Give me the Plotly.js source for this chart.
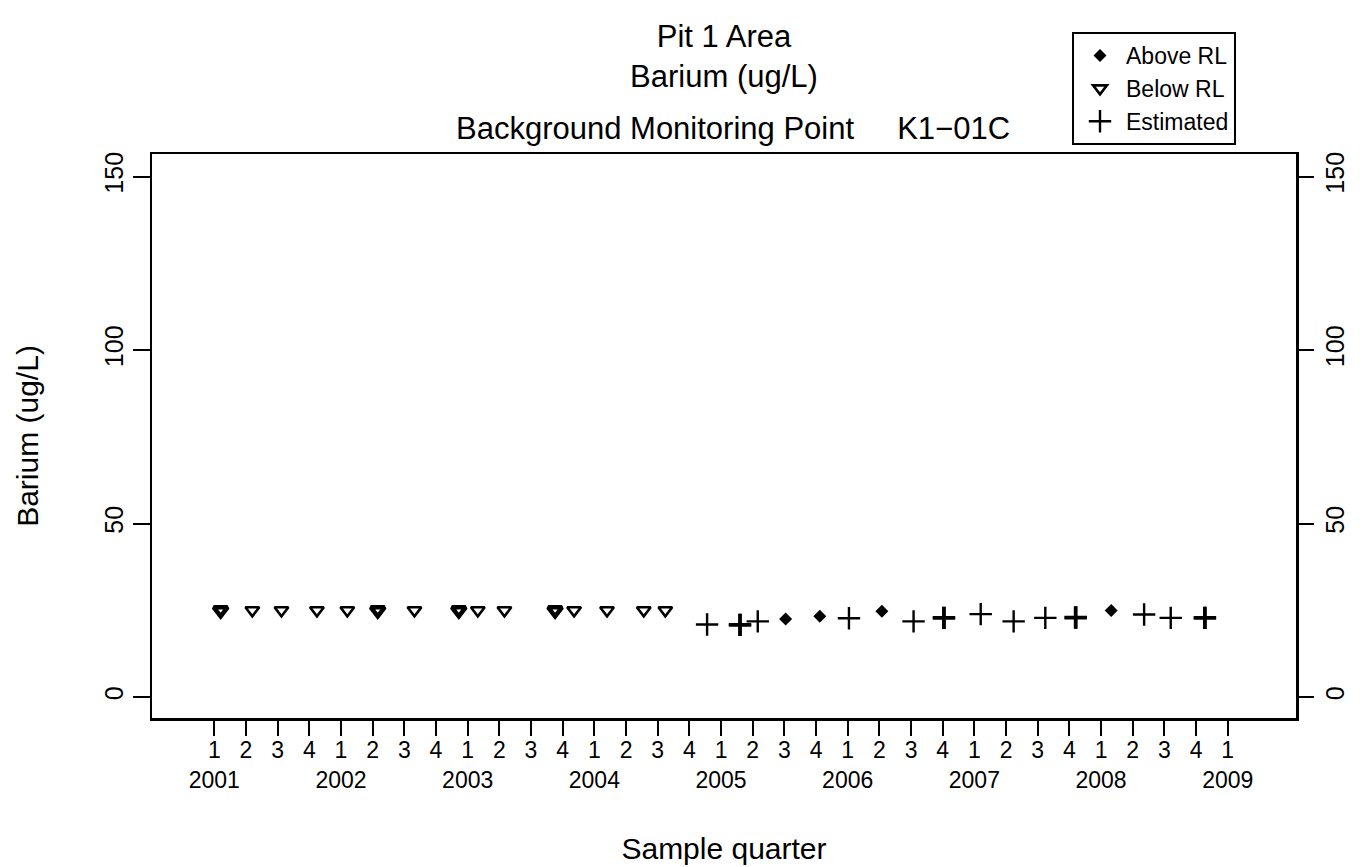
<!DOCTYPE html>
<html>
<head>
<meta charset="utf-8">
<script src="https://cdn.plot.ly/plotly-3.0.1.min.js"></script>
<style>
html,body{margin:0;padding:0;background:#fff;}
#chart{width:1364px;height:867px;}
</style>
</head>
<body>
<div id="chart"></div>
<script>
// ---- data (sample time as decimal year, value in ug/L) ----
const years = [2001, 2002, 2003, 2004, 2005, 2006, 2007, 2008, 2009];
const quarterLabels = ['1', '2', '3', '4'];

const aboveX = [2005.51, 2005.78, 2006.27, 2008.08];
const aboveY = [22.5, 23.3, 24.7, 24.9];

const belowX = [2001.05, 2001.30, 2001.53, 2001.81, 2002.05, 2002.29, 2002.58, 2002.93,
                2003.08, 2003.29, 2003.69, 2003.84, 2004.10, 2004.39, 2004.56];
const belowY = [25, 25, 25, 25, 25, 25, 25, 25, 25, 25, 25, 25, 25, 25, 25];

const estX = [2004.89, 2005.15, 2005.29, 2006.01, 2006.52, 2006.76, 2007.05, 2007.31,
              2007.56, 2007.80, 2008.34, 2008.55, 2008.82];
const estY = [20.9, 20.8, 21.8, 22.7, 21.8, 22.8, 23.9, 21.8, 22.8, 22.9, 23.8, 22.8, 22.8];

// points drawn heavier (overplotted samples) - indices into the arrays above
const belowHeavy = [0, 5, 7, 10];
const estHeavy = [1, 5, 9, 12];

// ---- ticks ----
const tickVals = [], tickText = [];
years.forEach(function (yr) {
  quarterLabels.forEach(function (ql, q) {
    if (yr === years[years.length - 1] && q > 0) return;
    tickVals.push(yr + q / 4);
    tickText.push(q === 0 ? ql + '<br>' + yr : ql);
  });
});
const yTicks = [0, 50, 100, 150];

const FONT = 'Liberation Sans, Arial, Helvetica, sans-serif';
const pick = (arr, idx) => idx.map(i => arr[i]);

const traces = [
  {
    name: 'Above RL', x: aboveX, y: aboveY, type: 'scatter', mode: 'markers',
    marker: {symbol: 'diamond', size: 10, color: '#000', line: {width: 0}}
  },
  {
    name: 'Below RL', x: belowX, y: belowY, type: 'scatter', mode: 'markers',
    marker: {symbol: 'triangle-down-open', size: 12, color: '#000', line: {width: 2.6, color: '#000'}}
  },
  {
    name: 'Estimated', x: estX, y: estY, type: 'scatter', mode: 'markers',
    marker: {symbol: 'cross-thin-open', size: 16, color: '#000', line: {width: 2.4, color: '#000'}}
  },
  {
    name: 'Below RL', x: pick(belowX, belowHeavy), y: pick(belowY, belowHeavy), type: 'scatter', mode: 'markers',
    showlegend: false,
    marker: {symbol: 'triangle-down-open', size: 12, color: '#000', line: {width: 4.5, color: '#000'}}
  },
  {
    name: 'Estimated', x: pick(estX, estHeavy), y: pick(estY, estHeavy), type: 'scatter', mode: 'markers',
    showlegend: false,
    marker: {symbol: 'cross-thin-open', size: 16, color: '#000', line: {width: 3.8, color: '#000'}}
  },
  {x: [], y: [], yaxis: 'y2', type: 'scatter', mode: 'markers', showlegend: false, hoverinfo: 'skip'}
];

const layout = {
  width: 1364, height: 867,
  margin: {l: 152, r: 68, t: 154, b: 149, pad: 0},
  paper_bgcolor: '#fff', plot_bgcolor: '#fff',
  font: {family: FONT, color: '#000', size: 22},
  title: {
    text: 'Pit 1 Area<br>Barium (ug/L)',
    font: {family: FONT, size: 31, color: '#000'},
    x: 0.5, xref: 'paper', xanchor: 'center',
    y: 1 - 47 / 867, yref: 'container', yanchor: 'top'
  },
  annotations: [{
    text: 'Background Monitoring Point\u00a0\u00a0\u00a0\u00a0\u00a0K1\u221201C',
    xref: 'paper', yref: 'paper', x: 0.508, y: (718 - 128) / 564,
    xanchor: 'center', yanchor: 'middle', showarrow: false,
    font: {family: FONT, size: 31, color: '#000'}
  }],
  xaxis: {
    range: [2000.508, 2009.539],
    tickmode: 'array', tickvals: tickVals, ticktext: tickText, tickangle: 0,
    ticks: 'outside', ticklen: 15, tickwidth: 2, tickcolor: '#000',
    ticklabelstandoff: -5,
    showline: true, linewidth: 2.5, linecolor: '#000', mirror: true,
    showgrid: false, zeroline: false,
    tickfont: {family: FONT, size: 23, color: '#000'},
    title: {text: 'Sample quarter', font: {family: FONT, size: 30, color: '#000'}, standoff: 46},
    automargin: false
  },
  yaxis: {
    range: [-6.05, 156.5],
    tickmode: 'array', tickvals: yTicks,
    ticks: 'outside', ticklen: 17, tickwidth: 2, tickcolor: '#000', tickangle: -90,
    showline: true, linewidth: 2.5, linecolor: '#000', mirror: true,
    showgrid: false, zeroline: false,
    tickfont: {family: FONT, size: 25, color: '#000'},
    title: {text: 'Barium (ug/L)', font: {family: FONT, size: 30, color: '#000'}, standoff: 52},
    automargin: false
  },
  yaxis2: {
    overlaying: 'y', side: 'right', anchor: 'x',
    range: [-6.05, 156.5],
    tickmode: 'array', tickvals: yTicks,
    ticks: 'outside', ticklen: 17, tickwidth: 2, tickcolor: '#000', tickangle: -90,
    showline: false, showgrid: false, zeroline: false,
    tickfont: {family: FONT, size: 25, color: '#000'},
    automargin: false
  },
  legend: {
    x: (1072 - 152) / 1144, y: (718 - 32) / 564, xanchor: 'left', yanchor: 'top',
    bordercolor: '#000', borderwidth: 2, bgcolor: '#fff',
    font: {family: FONT, size: 23, color: '#000'},
    itemwidth: 42,
    tracegroupgap: 0
  },
  showlegend: true
};

Plotly.newPlot('chart', traces, layout, {displayModeBar: false, staticPlot: true});
</script>
</body>
</html>
